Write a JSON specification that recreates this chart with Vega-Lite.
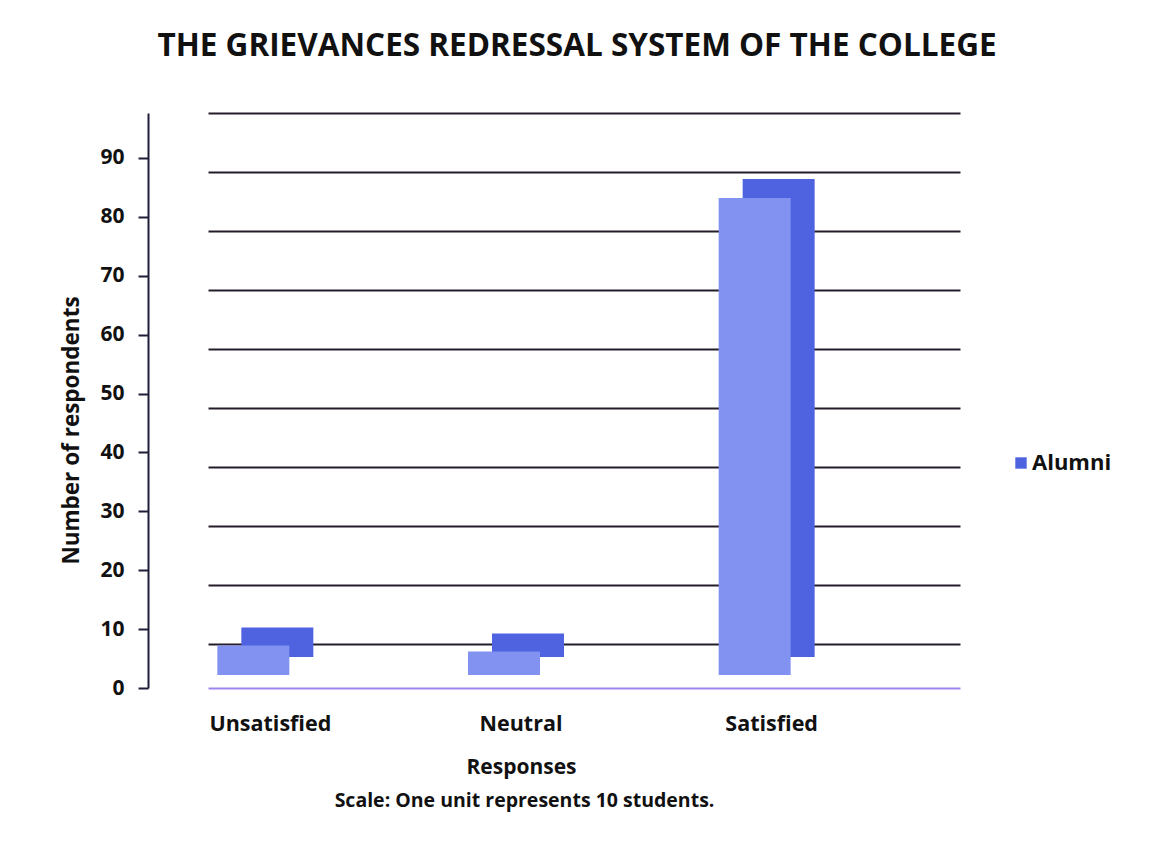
{
  "$schema": "https://vega.github.io/schema/vega-lite/v6.json",
  "width": 752,
  "height": 575,
  "autosize": {"type": "none"},
  "padding": {"left": 208, "top": 113, "right": 189, "bottom": 160},
  "background": "white",
  "config": {
    "view": {"stroke": null},
    "font": "Open Sans"
  },
  "title": {
    "text": "THE GRIEVANCES REDRESSAL SYSTEM OF THE COLLEGE",
    "font": "Open Sans",
    "fontSize": 31.5,
    "fontWeight": "bold",
    "color": "#111111",
    "anchor": "middle",
    "frame": "group",
    "offset": 51,
    "dx": -7
  },
  "data": {
    "values": [
      {"response": "Unsatisfied", "group": "Alumni", "count": 5},
      {"response": "Neutral", "group": "Alumni", "count": 4},
      {"response": "Satisfied", "group": "Alumni", "count": 81}
    ]
  },
  "layer": [
    {
      "mark": {"type": "bar", "width": 72, "xOffset": -56, "yOffset": 13, "y2Offset": 13},
      "encoding": {
        "x": {
          "field": "response", "type": "nominal",
          "sort": ["Unsatisfied", "Neutral", "Satisfied"],
          "scale": {"paddingInner": 0, "paddingOuter": 0},
          "axis": {
            "orient": "bottom", "labels": false, "ticks": false, "domain": false, "grid": false,
            "title": "Scale: One unit represents 10 students.",
            "titleFont": "Open Sans", "titleFontSize": 19.5, "titleFontWeight": "bold", "titleColor": "#111111",
            "titleX": 316, "titleY": 118, "titleBaseline": "alphabetic", "titleAnchor": "middle", "titleAlign": "center"
          }
        },
        "y": {
          "field": "count", "type": "quantitative",
          "scale": {"domain": [-7.46, 90], "nice": false, "zero": false},
          "axis": {
            "orient": "left", "values": [0, 10, 20, 30, 40, 50, 60, 70, 80, 90],
            "grid": true, "gridColor": "#241c2a", "gridWidth": 2,
            "labels": false, "ticks": false, "domain": false, "title": null
          }
        },
        "color": {
          "field": "group", "type": "nominal",
          "scale": {"range": ["#4f63e0"]},
          "legend": {
            "title": null, "orient": "none", "legendX": 802, "legendY": 339,
            "symbolType": "square", "symbolSize": 130, "padding": 0,
            "labelFont": "Open Sans", "labelFontSize": 22, "labelFontWeight": "bold", "labelColor": "#111111",
            "labelOffset": 0
          }
        }
      }
    },
    {
      "mark": {"type": "bar", "width": 72, "xOffset": -80, "yOffset": -13, "y2Offset": -13, "color": "#8192f1"},
      "encoding": {
        "x": {
          "field": "response", "type": "nominal",
          "sort": ["Unsatisfied", "Neutral", "Satisfied"],
          "scale": {"paddingInner": 0, "paddingOuter": 0},
          "axis": {
            "orient": "bottom", "labelAngle": 0, "labelOffset": -63, "ticks": false, "tickSize": 0,
            "labelPadding": 25, "labelFont": "Open Sans", "labelFontSize": 21.5, "labelFontWeight": "bold", "labelColor": "#111111",
            "domain": true, "domainColor": "#9d85f0", "domainWidth": 2, "grid": false,
            "title": "Responses",
            "titleFont": "Open Sans", "titleFontSize": 21, "titleFontWeight": "bold", "titleColor": "#111111",
            "titleX": 313, "titleY": 85, "titleBaseline": "alphabetic", "titleAnchor": "middle", "titleAlign": "center"
          }
        },
        "y": {
          "field": "count", "type": "quantitative",
          "scale": {"domain": [0, 97.64], "nice": false, "zero": false},
          "axis": {
            "orient": "left", "offset": 60, "values": [0, 10, 20, 30, 40, 50, 60, 70, 80, 90],
            "grid": false, "domain": true, "domainColor": "#1e1d3a", "domainWidth": 2,
            "ticks": true, "tickColor": "#1e1d3a", "tickWidth": 2, "tickSize": 10,
            "labelPadding": 14, "labelFont": "Open Sans", "labelFontSize": 21, "labelFontWeight": "bold", "labelColor": "#111111",
            "title": "Number of respondents",
            "titleFont": "Open Sans", "titleFontSize": 22.5, "titleFontWeight": "bold", "titleColor": "#111111",
            "titleX": -70, "titleY": 317, "titleAngle": -90, "titleBaseline": "alphabetic", "titleAnchor": "middle", "titleAlign": "center"
          }
        }
      }
    }
  ],
  "resolve": {
    "scale": {"y": "independent", "x": "independent"},
    "axis": {"y": "independent", "x": "independent"}
  }
}
